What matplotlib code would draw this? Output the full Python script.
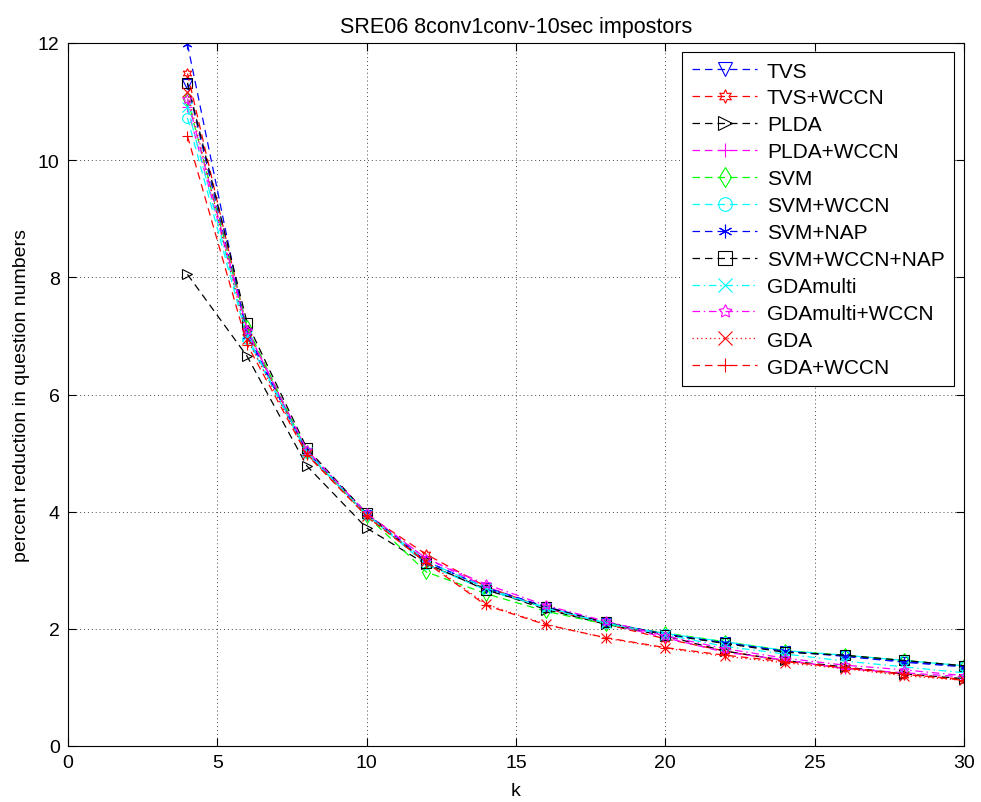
import matplotlib
matplotlib.use("Agg")
import matplotlib.pyplot as plt

plt.rcParams['font.family'] = ['Liberation Sans', 'DejaVu Sans']

k = [4, 6, 8, 10, 12, 14, 16, 18, 20, 22, 24, 26, 28, 30]

tvs = [11.30, 7.05, 5.00, 3.95, 3.15, 2.70, 2.37, 2.10, 1.90, 1.77, 1.62, 1.54, 1.44, 1.36]
tvs_wccn = [11.48, 7.10, 5.00, 3.95, 3.27, 2.72, 2.35, 2.08, 1.83, 1.62, 1.45, 1.33, 1.22, 1.14]
plda = [8.05, 6.65, 4.78, 3.72, 3.10, 2.68, 2.33, 2.08, 1.88, 1.62, 1.46, 1.35, 1.23, 1.15]
plda_wccn = [10.90, 7.10, 5.02, 3.95, 3.20, 2.72, 2.36, 2.10, 1.85, 1.60, 1.47, 1.32, 1.25, 1.18]
svm = [11.05, 7.15, 5.02, 3.93, 2.97, 2.60, 2.30, 2.08, 1.93, 1.78, 1.63, 1.55, 1.46, 1.37]
svm_wccn = [10.72, 6.95, 5.00, 3.95, 3.10, 2.66, 2.37, 2.10, 1.92, 1.78, 1.63, 1.55, 1.46, 1.37]
svm_nap = [11.98, 7.00, 5.03, 3.97, 3.15, 2.70, 2.38, 2.11, 1.91, 1.76, 1.62, 1.53, 1.43, 1.35]
svm_wccn_nap = [11.32, 7.22, 5.08, 3.97, 3.12, 2.66, 2.37, 2.11, 1.90, 1.75, 1.60, 1.55, 1.46, 1.37]
gda_multi = [10.90, 7.00, 5.02, 3.95, 3.15, 2.70, 2.35, 2.10, 1.90, 1.70, 1.57, 1.45, 1.35, 1.25]
gda_multi_wccn = [11.05, 7.10, 5.05, 3.97, 3.20, 2.76, 2.40, 2.13, 1.88, 1.66, 1.50, 1.38, 1.30, 1.20]
gda = [11.16, 6.95, 4.98, 3.93, 3.15, 2.42, 2.08, 1.84, 1.67, 1.53, 1.42, 1.32, 1.20, 1.12]
gda_wccn = [10.41, 6.85, 4.97, 3.92, 3.13, 2.40, 2.07, 1.85, 1.68, 1.55, 1.44, 1.34, 1.23, 1.12]

# matlab-style colours and markers
blue, red, black = '#0000ff', '#ff0000', '#000000'
mag, green, cyan = '#ff00ff', '#00ff00', '#00ffff'
hexagram = (6, 1, 0)
pentagram = (5, 1, 0)
asterisk = (6, 2, 0)

series = [
    ('TVS', tvs, blue, '--', 'v'),
    ('TVS+WCCN', tvs_wccn, red, '--', hexagram),
    ('PLDA', plda, black, '--', '>'),
    ('PLDA+WCCN', plda_wccn, mag, '--', '+'),
    ('SVM', svm, green, '--', 'd'),
    ('SVM+WCCN', svm_wccn, cyan, '--', 'o'),
    ('SVM+NAP', svm_nap, blue, '--', asterisk),
    ('SVM+WCCN+NAP', svm_wccn_nap, black, '--', 's'),
    ('GDAmulti', gda_multi, cyan, '-.', 'x'),
    ('GDAmulti+WCCN', gda_multi_wccn, mag, '-.', pentagram),
    ('GDA', gda, red, ':', 'x'),
    ('GDA+WCCN', gda_wccn, red, '--', '+'),
]

dash_map = {'--': (0, (6, 4)), '-.': (0, (6, 3, 1.2, 3)), ':': (0, (1, 2.5))}

fig = plt.figure(figsize=(9.81, 8.03), dpi=100)
ax = fig.add_axes([68 / 981, 56 / 803, 896 / 981, 703 / 803])

for name, vals, col, ls, mk in series:
    ax.plot(k, vals, color=col, linestyle=dash_map[ls], marker=mk, markersize=7,
            markerfacecolor='none', markeredgecolor=col, linewidth=0.9,
            markeredgewidth=0.8, label=name)

ax.set_xlim(0, 30)
ax.set_ylim(0, 12)
ax.set_xticks(range(0, 31, 5))
ax.set_yticks(range(0, 13, 2))
ax.grid(True, linestyle=(0, (1, 3)), color='#444444', linewidth=0.7)
ax.tick_params(direction='in', top=True, right=True, labelsize=14, length=6, pad=6)
for sp in ax.spines.values():
    sp.set_linewidth(0.8)

ax.set_title('SRE06 8conv1conv-10sec impostors', fontsize=15.5, pad=8)
ax.set_xlabel('k', fontsize=14, labelpad=8)
ax.set_ylabel('percent reduction in question numbers', fontsize=14, labelpad=6)

leg = ax.legend(loc='upper right', fontsize=15, frameon=True, fancybox=False,
                edgecolor='k', framealpha=1, handlelength=3.15, labelspacing=0.38,
                borderpad=0.45, handletextpad=0.45, borderaxespad=0, markerscale=1.4,
                bbox_to_anchor=(0.9888, 0.987))
leg.get_frame().set_linewidth(0.8)

fig.savefig('out.png', dpi=100)
